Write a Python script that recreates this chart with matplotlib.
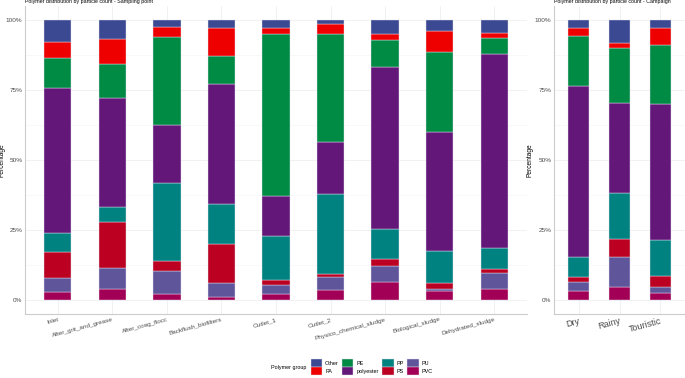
import matplotlib.pyplot as plt
import numpy as np

plt.rcParams['font.family'] = ['Liberation Sans', 'DejaVu Sans']

# stacking order, bottom to top
groups = ["PVC", "PU", "PS", "PP", "polyester", "PE", "PA", "Other"]
group_colors = {"Other": "#3B4992", "PA": "#EE0000", "PE": "#008B45", "polyester": "#631879",
                "PP": "#008280", "PS": "#BB0021", "PU": "#5F559B", "PVC": "#A20056"}

# sampling points (%)
sites = ["Inlet", "After_grit_and_grease", "After_coag_flocc", "Backflush_biofilters",
         "Outlet_1", "Outlet_2", "Physico_chemical_sludge", "Biological_sludge", "Dehydrated_sludge"]
site_pvc = [2.9, 3.9, 2.1, 1.0, 2.1, 3.5, 6.3, 3.3, 4.0]
site_pu = [5.0, 7.5, 8.3, 5.2, 3.3, 4.8, 5.8, 0.7, 5.5]
site_ps = [9.1, 16.6, 3.6, 13.8, 1.9, 0.9, 2.7, 2.1, 1.6]
site_pp = [6.9, 5.2, 27.7, 14.3, 15.6, 28.7, 10.7, 11.5, 7.5]
site_polyester = [51.7, 38.8, 20.8, 42.7, 14.1, 18.4, 57.8, 42.4, 69.1]
site_pe = [10.7, 12.3, 31.3, 10.1, 58.0, 38.7, 9.6, 28.6, 5.8]
site_pa = [5.8, 9.0, 3.8, 9.9, 2.1, 3.6, 2.1, 7.6, 1.7]
site_other = [7.9, 6.7, 2.4, 3.0, 2.9, 1.4, 5.0, 3.8, 4.8]

# campaigns (%)
campaigns = ["Dry", "Rainy", "Touristic"]
camp_pvc = [3.2, 4.6, 2.5]
camp_pu = [3.1, 10.8, 2.3]
camp_ps = [1.9, 6.4, 3.8]
camp_pp = [7.3, 16.5, 12.8]
camp_polyester = [60.9, 32.1, 48.7]
camp_pe = [17.9, 19.6, 21.1]
camp_pa = [3.0, 1.7, 5.9]
camp_other = [2.7, 8.3, 2.9]

site_data = dict(zip(groups, [site_pvc, site_pu, site_ps, site_pp, site_polyester, site_pe, site_pa, site_other]))
camp_data = dict(zip(groups, [camp_pvc, camp_pu, camp_ps, camp_pp, camp_polyester, camp_pe, camp_pa, camp_other]))

W, H = 685, 378
fig = plt.figure(figsize=(W / 100, H / 100), dpi=100)
ax1 = fig.add_axes([25 / W, 64 / H, 502 / W, 308 / H])
ax2 = fig.add_axes([554 / W, 64 / H, 131 / W, 308 / H])


def draw_panel(ax, cats, data, title, ylab_x):
    x = np.arange(len(cats))
    bottom = np.zeros(len(cats))
    for g in groups:
        vals = np.array(data[g])
        ax.bar(x, vals, 0.5, bottom=bottom, color=group_colors[g], edgecolor="#e6e0f0",
               linewidth=0.3, label=g, zorder=3)
        bottom += vals
    ax.set_xlim(-0.6, len(cats) - 0.4)
    ax.set_ylim(-5, 105)
    ax.set_yticks([0, 25, 50, 75, 100])
    ax.set_yticklabels(["0%", "25%", "50%", "75%", "100%"])
    ax.set_yticks([12.5, 37.5, 62.5, 87.5], minor=True)
    ax.set_xticks(x)
    ax.set_xticklabels(cats, rotation=15, ha="right", rotation_mode="anchor")
    ax.tick_params(length=0, labelsize=4.6, colors="#4D4D4D", pad=2)
    ax.tick_params(which="minor", length=0)
    ax.grid(True, which="major", color="#EBEBEB", linewidth=0.5, zorder=0)
    ax.grid(True, which="minor", axis="y", color="#F4F4F4", linewidth=0.4, zorder=0)
    for s in ["top", "right"]:
        ax.spines[s].set_visible(False)
    for s in ["left", "bottom"]:
        ax.spines[s].set_color("#CCCCCC")
        ax.spines[s].set_linewidth(0.8)
    ax.set_ylabel("Percentage", fontsize=4.8)
    ax.yaxis.set_label_coords(ylab_x, 0.5)
    ax.set_title(title, fontsize=3.8, loc="left", pad=2.5)


draw_panel(ax1, sites, site_data, "Polymer distribution by particle count - Sampling point", (6 - 25) / 502)
draw_panel(ax2, campaigns, camp_data, "Polymer distribution by particle count - Campaign", (533 - 554) / 131)
ax2.tick_params(axis="x", labelsize=6.5)

# legend at the bottom, title on the left
handles, labels = ax1.get_legend_handles_labels()
order = ["Other", "PA", "PE", "polyester", "PP", "PS", "PU", "PVC"]
hmap = dict(zip(labels, handles))
fig.legend([hmap[o] for o in order], order, loc="center left", bbox_to_anchor=(308 / W, 11 / H),
           ncol=4, frameon=False, fontsize=4.0, handlelength=2.0, handleheight=1.85,
           labelspacing=0.0, columnspacing=0.6, handletextpad=0.6, borderpad=0)
fig.text(271 / W, 11 / H, "Polymer group", fontsize=3.9, va="center", ha="left")

plt.savefig("out.png", dpi=100)
